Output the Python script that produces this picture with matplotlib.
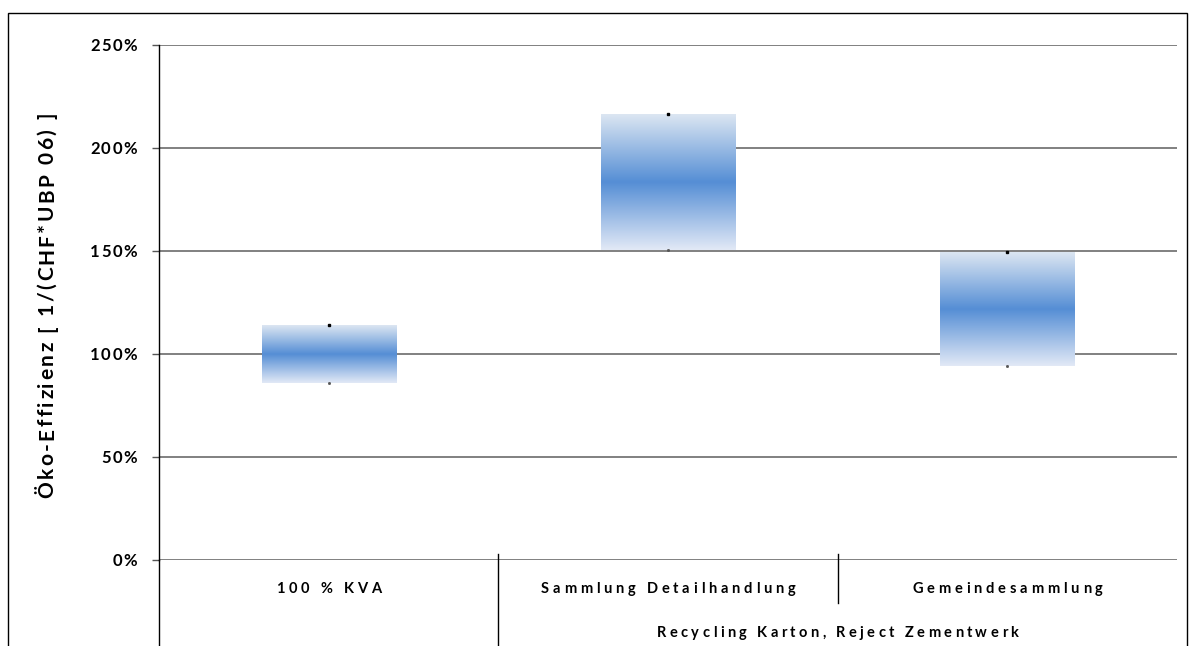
import matplotlib
matplotlib.use('Agg')
import matplotlib.pyplot as plt
import numpy as np
from matplotlib.colors import LinearSegmentedColormap
from matplotlib.patches import Rectangle
from matplotlib.lines import Line2D
from matplotlib.transforms import IdentityTransform
from matplotlib.font_manager import FontProperties

# data (eco-efficiency, percent)
categories = ['100 % KVA', 'Sammlung Detailhandlung', 'Gemeindesammlung']
group_label = 'Recycling Karton, Reject Zementwerk'
low_values = [86, 150.5, 94.2]
high_values = [114, 216.5, 149.5]
y_ticks = [0, 50, 100, 150, 200, 250]
y_tick_labels = ['0%', '50%', '100%', '150%', '200%', '250%']
y_title = 'Öko-Effizienz [ 1/(CHF*UBP 06) ]'

W, H = 1197, 646
plt.rcParams['font.family'] = ['Lato', 'DejaVu Sans']

fig = plt.figure(figsize=(W / 100, H / 100), dpi=100)
ax = fig.add_axes([159 / W, 1 - 560 / H, (1177 - 159) / W, (560 - 45) / H])
renderer = fig.canvas.get_renderer()


def text_w(s, prop):
    w, h, d = renderer.get_text_width_height_descent(s, prop, ismath=False)
    return w


def spaced_text(s, x, y, size, extra, ha='center', vertical=False):
    # draws text with extra letter spacing (px); x, y are display pixels,
    # y is the baseline (or baseline x when vertical)
    prop = FontProperties(family=['Lato', 'DejaVu Sans'], weight='bold', size=size)
    ref = text_w('I', prop)
    offs = [text_w(s[:k] + 'I', prop) - ref + k * extra for k in range(len(s))]
    total = text_w(s, prop) + (len(s) - 1) * extra
    start = {'center': -total / 2, 'right': -total, 'left': 0}[ha]
    for ch, o in zip(s, offs):
        if ch == ' ':
            continue
        if vertical:
            fig.text(x, y + start + o, ch, fontproperties=prop, rotation=90,
                     rotation_mode='anchor', ha='left', va='baseline',
                     transform=IdentityTransform())
        else:
            fig.text(x + start + o, y, ch, fontproperties=prop, ha='left',
                     va='baseline', transform=IdentityTransform())


# vertical gradient: light at the edges, strong blue in the middle
grad_cmap = LinearSegmentedColormap.from_list('grad', ['#e2e9f6', '#558ed5', '#dce6f2'])
grad = np.linspace(0, 1, 256).reshape(-1, 1)

box_w = 0.395
for i, (lo, hi) in enumerate(zip(low_values, high_values)):
    ax.imshow(grad, cmap=grad_cmap, aspect='auto', origin='lower',
              extent=(i - box_w / 2, i + box_w / 2, lo, hi), zorder=3)
    ax.plot([i], [hi], marker='s', markersize=1.8, color='black', zorder=4)
    ax.plot([i], [lo], marker='s', markersize=1.0, color='#555555', zorder=4)

ax.set_xlim(-0.5, 2.5)
ax.set_ylim(0, 250)
ax.set_yticks(y_ticks)
ax.set_yticklabels([])
ax.yaxis.grid(True, color='#6b6b6b', linewidth=1.2)
ax.set_axisbelow(True)
ax.tick_params(axis='y', length=5, width=1, color='#555555')
ax.set_xticks([])

for s in ['top', 'right', 'bottom']:
    ax.spines[s].set_visible(False)
ax.spines['left'].set_color('black')
ax.spines['left'].set_linewidth(1)

# y tick labels, letter spaced
for v, lab in zip(y_ticks, y_tick_labels):
    px, py = ax.transData.transform((-0.5, v))
    spaced_text(lab, px - 22, py - 6, 12, 1.5, ha='right')

# y axis title
spaced_text(y_title, 53, H - 305, 15, 2.4, vertical=True)

# category labels and group label below the axis
for i, c in enumerate(categories):
    px, py = ax.transData.transform((i, 0))
    spaced_text(c, px, H - 593, 10.5, 3.8)
px, py = ax.transData.transform((1.5, 0))
spaced_text(group_label, px, H - 637, 10.5, 3.4)

# separators of the category axis
ax.add_line(Line2D([-0.5, -0.5], [0, -45], color='black', linewidth=1, clip_on=False))
ax.add_line(Line2D([0.5, 0.5], [3, -45], color='black', linewidth=1, clip_on=False))
ax.add_line(Line2D([1.5, 1.5], [3, -21], color='black', linewidth=1, clip_on=False))

# outer chart border
fig.patches.append(Rectangle((8 / W, -0.05), (1187 - 8) / W, 1.05 - 13 / H,
                             transform=fig.transFigure, fill=False,
                             edgecolor='black', linewidth=1))

fig.savefig('out.png', dpi=100)
